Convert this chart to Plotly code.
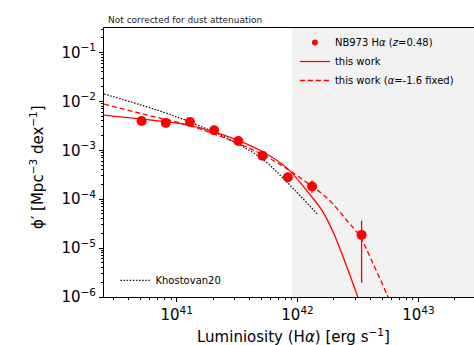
import numpy as np
import plotly.graph_objects as go

# ---- data (log10 values) ----
log_L_obs = [40.71, 40.91, 41.11, 41.31, 41.51, 41.71, 41.92, 42.12, 42.53]
log_phi_obs = [-2.40, -2.44, -2.42, -2.59, -2.81, -3.11, -3.55, -3.74, -4.73]
log_phi_obs_hi = [-2.36, -2.40, -2.38, -2.55, -2.77, -3.07, -3.48, -3.62, -4.44]
log_phi_obs_lo = [-2.44, -2.48, -2.46, -2.63, -2.85, -3.15, -3.62, -3.87, -5.71]

log_L_fit = [40.40, 40.70, 41.11, 41.47, 41.72, 41.92, 42.10, 42.20, 42.30, 42.40, 42.50, 42.56]
log_phi_fit = [-2.28, -2.36, -2.49, -2.76, -3.04, -3.38, -3.90, -4.22, -4.70, -5.33, -6.01, -6.45]

log_L_fixed = [40.40, 40.70, 41.11, 41.47, 41.72, 41.92, 42.10, 42.25, 42.40, 42.52, 42.61, 42.74, 42.78]
log_phi_fixed = [-2.055, -2.245, -2.50, -2.82, -3.10, -3.39, -3.70, -3.99, -4.41, -4.78, -5.24, -5.95, -6.20]

log_L_k20 = [40.40, 40.70, 40.90, 41.11, 41.47, 41.72, 41.92, 42.17]
log_phi_k20 = [-1.85, -2.07, -2.23, -2.42, -2.82, -3.20, -3.67, -4.32]

completeness_log_L = 41.955

x_tick_exps = [41, 42, 43]
y_tick_exps = [-6, -5, -4, -3, -2, -1]

# ---- derived values ----
L_obs = 10.0 ** np.array(log_L_obs)
phi_obs = 10.0 ** np.array(log_phi_obs)
err_plus = 10.0 ** np.array(log_phi_obs_hi) - phi_obs
err_minus = phi_obs - 10.0 ** np.array(log_phi_obs_lo)

FONT = "DejaVu Sans"
RED = "#ff0000"
OBS_NAME = "NB973 H<i>α</i> (<i>z</i>=0.48)"

fig = go.Figure()

fig.add_trace(go.Scatter(
    x=10.0 ** np.array(log_L_k20), y=10.0 ** np.array(log_phi_k20),
    mode="lines", line=dict(color="#111111", width=1.3, dash="1.5px,1.6px", shape="spline"),
    name="Khostovan20", legend="legend2"))

fig.add_trace(go.Scatter(
    x=10.0 ** np.array(log_L_fit), y=10.0 ** np.array(log_phi_fit),
    mode="lines", line=dict(color=RED, width=1.3, shape="spline"),
    name="this work", legendrank=2))

fig.add_trace(go.Scatter(
    x=10.0 ** np.array(log_L_fixed), y=10.0 ** np.array(log_phi_fixed),
    mode="lines", line=dict(color=RED, width=1.3, dash="5px,3px", shape="spline"),
    name="this work (<i>α</i>=-1.6 fixed)", legendrank=3))

fig.add_trace(go.Scatter(
    x=L_obs, y=phi_obs, mode="markers",
    marker=dict(color=RED, size=10, line=dict(width=0)),
    error_y=dict(type="data", array=err_plus, arrayminus=err_minus,
                 color=RED, thickness=1.3, width=0),
    name=OBS_NAME, showlegend=False, legendgroup="obs"))

# legend entry for the observed points (small marker, as in the reference legend)
fig.add_trace(go.Scatter(
    x=[None], y=[None], mode="markers",
    marker=dict(color=RED, size=6, symbol="circle"),
    name=OBS_NAME, legendrank=1, legendgroup="obs"))

# shaded region beyond completeness
fig.add_shape(type="rect", xref="x", yref="paper",
              x0=10.0 ** completeness_log_L, x1=10.0 ** 44, y0=0, y1=1,
              fillcolor="#f2f2f2", line=dict(width=0), layer="below")

def minor_vals(lo, hi):
    return [float(m) * 10.0 ** e for e in range(lo, hi) for m in range(2, 10)]

sup = lambda e: "10<sup>" + (str(e) if e >= 0 else "\u2212" + str(-e)) + "</sup>"

fig.update_xaxes(
    type="log", range=[40.399, 43.46],
    tickmode="array", tickvals=[10.0 ** e for e in x_tick_exps],
    ticktext=[sup(e) for e in x_tick_exps],
    ticks="outside", ticklen=4, tickwidth=1, tickcolor="black",
    minor=dict(tickmode="array", tickvals=minor_vals(40, 44), ticks="outside",
               ticklen=2, tickwidth=0.8, tickcolor="black", showgrid=False),
    showline=True, linecolor="black", linewidth=1, mirror=True,
    showgrid=False, zeroline=False,
    tickfont=dict(family=FONT, size=15, color="black"))

fig.update_yaxes(
    type="log", range=[-6, -0.5],
    tickmode="array", tickvals=[10.0 ** e for e in y_tick_exps],
    ticktext=[sup(e) for e in y_tick_exps],
    ticks="outside", ticklen=4, tickwidth=1, tickcolor="black",
    minor=dict(tickmode="array", tickvals=minor_vals(-6, 0), ticks="outside",
               ticklen=2, tickwidth=0.8, tickcolor="black", showgrid=False),
    showline=True, linecolor="black", linewidth=1, mirror=False,
    showgrid=False, zeroline=False,
    tickfont=dict(family=FONT, size=15, color="black"))

PW, PH = 370, 269  # plot area size in px

fig.update_layout(
    width=474, height=345,
    margin=dict(l=104, r=0, t=28, b=48),
    paper_bgcolor="white", plot_bgcolor="white",
    font=dict(family=FONT, color="black"),
    showlegend=True,
    legend=dict(x=0.516, y=1.0, xanchor="left", yanchor="top",
                bgcolor="rgba(0,0,0,0)", font=dict(family=FONT, size=10),
                itemwidth=30, tracegroupgap=0),
    legend2=dict(x=0.031, y=0.008, xanchor="left", yanchor="bottom",
                 bgcolor="rgba(0,0,0,0)", font=dict(family=FONT, size=10),
                 itemwidth=30),
    annotations=[
        dict(text="Not corrected for dust attenuation", xref="paper", yref="paper",
             x=0.006, y=1.0, xanchor="left", yanchor="bottom", yshift=1,
             showarrow=False, font=dict(family=FONT, size=9, color="#222")),
        dict(text="Luminiosity (H<i>α</i>) [erg s<sup>\u22121</sup>]",
             xref="paper", yref="paper", x=(293.5 - 104) / PW, y=(297 - 336) / PH,
             xanchor="center", yanchor="middle", showarrow=False,
             font=dict(family=FONT, size=15, color="black")),
        dict(text="\u03d5\u2032 [Mpc<sup>\u22123</sup> dex<sup>\u22121</sup>]",
             xref="paper", yref="paper", x=(37 - 104) / PW, y=(297 - 167) / PH,
             xanchor="center", yanchor="middle", textangle=-90, showarrow=False,
             font=dict(family=FONT, size=15, color="black")),
    ],
)

fig.write_html("out.html", config={"displayModeBar": False},
               post_script="document.body.style.margin='0';")
